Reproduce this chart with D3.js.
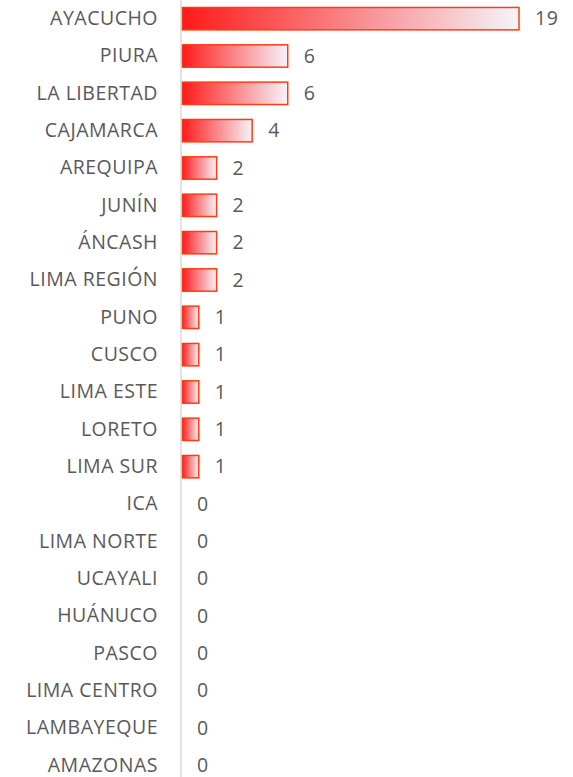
<!DOCTYPE html>
<html>
<head>
<meta charset="utf-8">
<script src="https://cdn.jsdelivr.net/npm/d3@7"></script>
<style>
  body { margin: 0; background: #fff; }
  text { font-family: "Open Sans", "Noto Sans", sans-serif; font-size: 19.5px; fill: #595959; letter-spacing: 0.5px; }
</style>
</head>
<body>
<script>
// data
var regions = ["AYACUCHO", "PIURA", "LA LIBERTAD", "CAJAMARCA", "AREQUIPA", "JUNÍN", "ÁNCASH",
  "LIMA REGIÓN", "PUNO", "CUSCO", "LIMA ESTE", "LORETO", "LIMA SUR", "ICA", "LIMA NORTE",
  "UCAYALI", "HUÁNUCO", "PASCO", "LIMA CENTRO", "LAMBAYEQUE", "AMAZONAS"];
var cases = [19, 6, 6, 4, 2, 2, 2, 2, 1, 1, 1, 1, 1, 0, 0, 0, 0, 0, 0, 0, 0];

var width = 573, height = 777;
var axisX = 181;

var svg = d3.select("body").append("svg")
    .attr("width", width)
    .attr("height", height);

// gradient for bars, left red fading to white
var grad = svg.append("defs").append("linearGradient")
    .attr("id", "barGrad")
    .attr("x1", "0%").attr("x2", "100%")
    .attr("y1", "0%").attr("y2", "0%");
grad.append("stop").attr("offset", "0%").attr("stop-color", "#ff1a1a");
grad.append("stop").attr("offset", "100%").attr("stop-color", "#f4f4fa");

var x = d3.scaleLinear()
    .domain([0, 19])
    .range([axisX, 519]);

var y = d3.scaleBand()
    .domain(regions)
    .range([0, 784])
    .paddingInner(0.4)
    .paddingOuter(0.2);

// bars
svg.selectAll("rect.bar")
    .data(regions.filter(function(d, i) { return cases[i] > 0; }))
    .enter().append("rect")
    .attr("class", "bar")
    .attr("x", x(0) + 1)
    .attr("y", function(d) { return y(d); })
    .attr("width", function(d) { return x(cases[regions.indexOf(d)]) - x(0) - 1; })
    .attr("height", y.bandwidth())
    .attr("fill", "url(#barGrad)")
    .attr("stroke", "#ff3c14")
    .attr("stroke-width", 1.5);

// category axis
var yAxis = svg.append("g")
    .attr("transform", "translate(" + axisX + ",0)")
    .call(d3.axisLeft(y).tickSize(0).tickPadding(23));
yAxis.select(".domain")
    .attr("stroke", "#d9d9d9")
    .attr("stroke-width", 1.5)
    .attr("d", "M0,0V" + height);
yAxis.selectAll("text")
    .attr("fill", "#595959")
    .style("font-family", "'Open Sans', sans-serif")
    .style("font-size", "19.5px");

// value labels
svg.selectAll("text.val")
    .data(regions)
    .enter().append("text")
    .attr("class", "val")
    .attr("x", function(d, i) { return x(cases[i]) + 16; })
    .attr("y", function(d) { return y(d) + y.bandwidth() / 2; })
    .attr("dy", "0.35em")
    .text(function(d, i) { return cases[i]; });
</script>
</body>
</html>
